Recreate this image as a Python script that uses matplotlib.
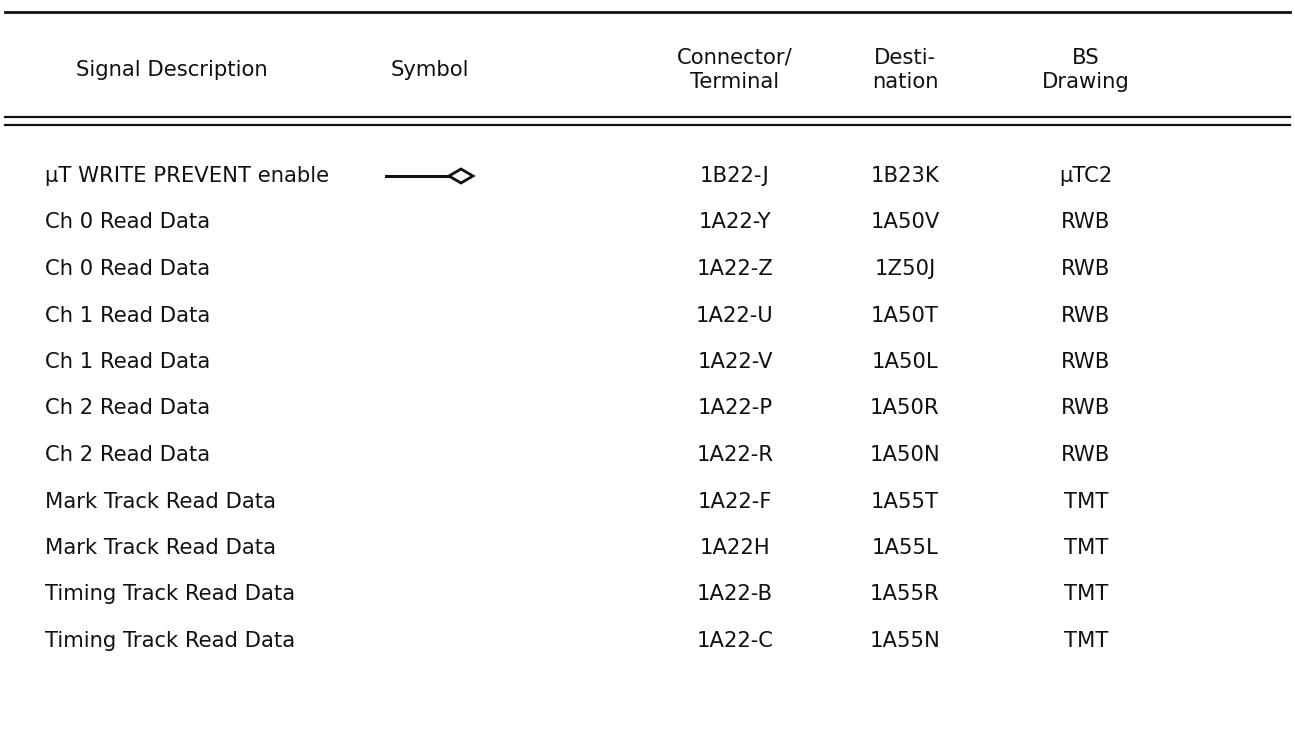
import matplotlib
matplotlib.use("Agg")
from matplotlib import pyplot as plt
from matplotlib.patches import Polygon

W, H = 1295, 740

headers = ["Signal Description", "Symbol", "Connector/\nTerminal", "Desti-\nnation", "BS\nDrawing"]
signals = ["µT WRITE PREVENT enable", "Ch 0 Read Data", "Ch 0 Read Data",
           "Ch 1 Read Data", "Ch 1 Read Data", "Ch 2 Read Data", "Ch 2 Read Data",
           "Mark Track Read Data", "Mark Track Read Data",
           "Timing Track Read Data", "Timing Track Read Data"]
connectors = ["1B22-J", "1A22-Y", "1A22-Z", "1A22-U", "1A22-V", "1A22-P",
              "1A22-R", "1A22-F", "1A22H", "1A22-B", "1A22-C"]
destinations = ["1B23K", "1A50V", "1Z50J", "1A50T", "1A50L", "1A50R",
                "1A50N", "1A55T", "1A55L", "1A55R", "1A55N"]
drawings = ["µTC2", "RWB", "RWB", "RWB", "RWB", "RWB", "RWB",
            "TMT", "TMT", "TMT", "TMT"]

# column layout (pixels)
header_x = [172, 430, 735, 905, 1086]
col_x = [45, 430, 735, 905, 1086]
row0, row_step = 176, 46.5
ink = "#111111"
fs = 15.2

fig = plt.figure(figsize=(W / 100, H / 100), dpi=100)
ax = fig.add_axes([0, 0, 1, 1])
ax.set_xlim(0, W)
ax.set_ylim(H, 0)
ax.axis("off")

# rules
ax.plot([5, 1290], [12, 12], color=ink, lw=2.0)
ax.plot([5, 1290], [117, 117], color=ink, lw=1.6)
ax.plot([5, 1290], [125, 125], color=ink, lw=1.6)

for i, h in enumerate(headers):
    ax.text(header_x[i], 70, h, ha="center", va="center", fontsize=fs,
            color=ink, linespacing=1.3)

for r in range(len(signals)):
    y = row0 + r * row_step
    ax.text(col_x[0], y, signals[r], ha="left", va="center", fontsize=fs, color=ink)
    ax.text(col_x[2], y, connectors[r], ha="center", va="center", fontsize=fs, color=ink)
    ax.text(col_x[3], y, destinations[r], ha="center", va="center", fontsize=fs, color=ink)
    ax.text(col_x[4], y, drawings[r], ha="center", va="center", fontsize=fs, color=ink)

# symbol for the first row: line ending in an open, flattened diamond
ys = row0
ax.plot([386, 449], [ys, ys], color=ink, lw=2.2)
ax.add_patch(Polygon([[449, ys], [461, ys - 7], [473, ys], [461, ys + 7]],
                     closed=True, facecolor="white", edgecolor=ink, lw=2.0))

fig.savefig("out.png", dpi=100)
